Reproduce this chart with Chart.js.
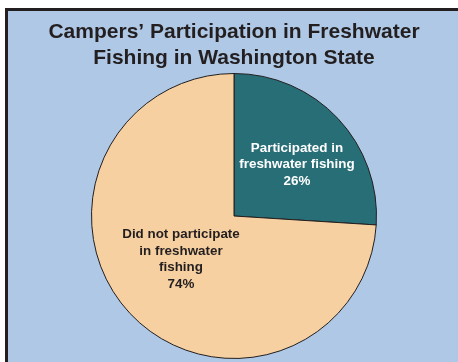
<!DOCTYPE html>
<html>
<head>
<meta charset="utf-8">
<script src="https://cdn.jsdelivr.net/npm/chart.js@4/dist/chart.umd.min.js"></script>
<style>
  html, body { margin: 0; padding: 0; background: #ffffff; }
  #wrap { width: 458px; height: 362px; position: relative; }
</style>
</head>
<body>
<div id="wrap"><canvas id="pie"></canvas></div>
<script>
const titleLines = ['Campers\u2019 Participation in Freshwater', 'Fishing in Washington State'];
const categories = ['Participated in freshwater fishing', 'Did not participate in freshwater fishing'];
const shares = [26, 74];
const sliceLabels = [
    ['Participated in', 'freshwater fishing'],
    ['Did not participate', 'in freshwater', 'fishing']
];

const sliceColors = ['#276e77', '#f7d0a1'];
const labelColors = ['#ffffff', '#231f20'];
// where each label sits: fraction of the radius, and a small turn off the mid-angle (deg)
const labelPlacement = [
    { r: 0.57, turn: 4 },
    { r: 0.48, turn: 4 }
];

// white margin, dark rule on the top/left, light blue panel, then the two-line heading
const framePlugin = {
    id: 'frame',
    beforeDraw(chart) {
        const { ctx, width, height } = chart;
        ctx.save();
        ctx.fillStyle = '#ffffff';
        ctx.fillRect(0, 0, width, height);
        ctx.fillStyle = '#231f20';
        ctx.fillRect(5, 8, width - 5, height - 8);
        ctx.fillStyle = '#aec8e6';
        ctx.fillRect(8, 11, width - 8, height - 11);

        ctx.fillStyle = '#231f20';
        ctx.font = 'bold 21px "Liberation Sans", Arial, sans-serif';
        ctx.textAlign = 'center';
        ctx.textBaseline = 'alphabetic';
        ctx.fillText(titleLines[0], 234, 37.5);
        ctx.fillText(titleLines[1], 234, 64);
        ctx.restore();
    }
};

const sliceLabelPlugin = {
    id: 'sliceLabels',
    afterDatasetsDraw(chart) {
        const { ctx } = chart;
        const meta = chart.getDatasetMeta(0);
        ctx.save();
        ctx.font = 'bold 13.4px "Liberation Sans", Arial, sans-serif';
        ctx.textAlign = 'center';
        ctx.textBaseline = 'middle';
        meta.data.forEach((arc, i) => {
            const p = arc.getProps(['x', 'y', 'startAngle', 'endAngle', 'outerRadius']);
            const mid = (p.startAngle + p.endAngle) / 2 + labelPlacement[i].turn * Math.PI / 180;
            const cx = p.x + Math.cos(mid) * p.outerRadius * labelPlacement[i].r;
            const cy = p.y + Math.sin(mid) * p.outerRadius * labelPlacement[i].r;
            const lines = sliceLabels[i].concat(shares[i] + '%');
            const lh = 16.7;
            const top = cy - (lines.length - 1) * lh / 2;
            ctx.fillStyle = labelColors[i];
            lines.forEach((t, k) => ctx.fillText(t, cx, top + k * lh));
        });
        ctx.restore();
    }
};

new Chart(document.getElementById('pie'), {
    type: 'pie',
    data: {
        labels: categories,
        datasets: [{
            data: shares,
            backgroundColor: sliceColors,
            borderColor: '#231f20',
            borderWidth: 1,
            hoverOffset: 0
        }]
    },
    options: {
        responsive: true,
        maintainAspectRatio: false,
        animation: false,
        layout: { padding: { left: 91, right: 81, bottom: 3, top: 73 } },
        plugins: {
            legend: { display: false },
            tooltip: { enabled: false },
            title: { display: false }
        }
    },
    plugins: [framePlugin, sliceLabelPlugin]
});
</script>
</body>
</html>
